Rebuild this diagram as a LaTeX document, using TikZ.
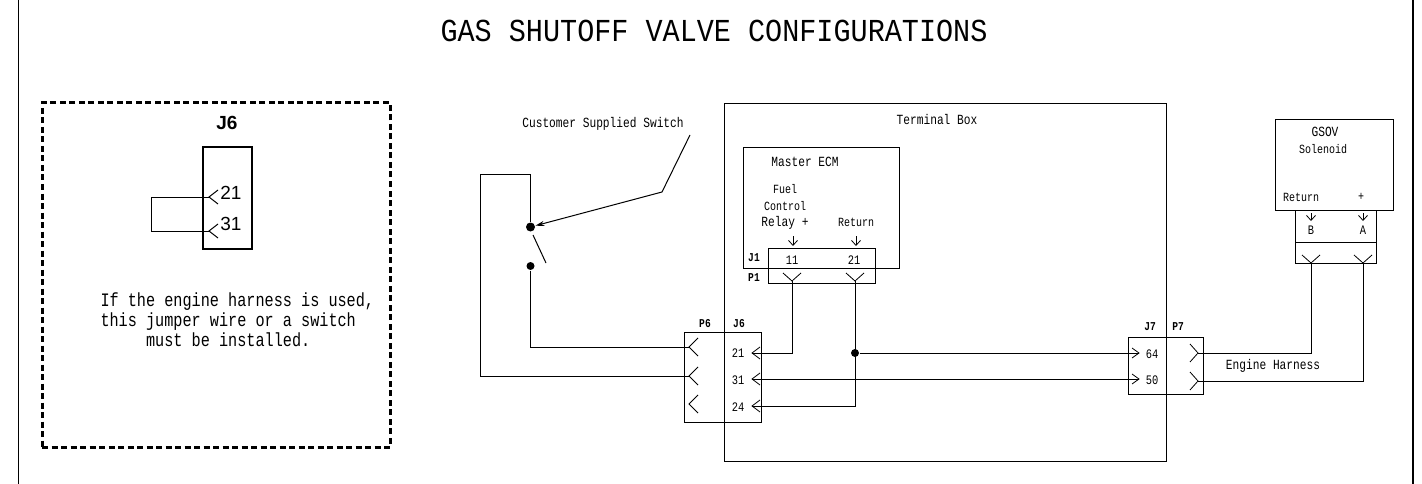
\documentclass[tikz,border=0pt]{standalone}
\usepackage{fontspec}
\usetikzlibrary{arrows.meta}
\newfontfamily\monofont[FakeStretch=0.8]{Liberation Mono}
\newfontfamily\headfont[FakeStretch=0.89]{Liberation Mono}
\newfontfamily\pinfont{Liberation Sans}
\tikzstyle{box} = [rectangle, draw, line width=1pt, inner sep=0pt, outer sep=0pt]
\tikzstyle{joint} = [circle, minimum width=8pt, fill, inner sep=0pt]
\tikzstyle{lbl} = [inner sep=0pt, font=\monofont\fontsize{14}{14}\selectfont]
\tikzstyle{lblsm} = [inner sep=0pt, font=\monofont\fontsize{12.5}{12.5}\selectfont]
\tikzstyle{num} = [inner sep=0pt, font=\monofont\fontsize{13}{13}\selectfont]
\tikzstyle{pin} = [inner sep=0pt, font=\monofont\bfseries\fontsize{12}{12}\selectfont]
\tikzstyle{wire} = [line width=1pt]
\tikzstyle{barb} = [line width=.8pt, -{Straight Barb[length=5pt,width=9pt]}]

\begin{document}
\begin{tikzpicture}[x=1pt, y=-1pt, line width=1pt]
    \useasboundingbox (0,0) rectangle (1422,484);
    \coordinate (ltop) at (18.5,0);
    \coordinate (lbot) at (18.5,484);
    \coordinate (rtop) at (1413,0);
    \coordinate (rbot) at (1413,484);
    \draw [line width=1.4pt] (ltop) -- (lbot);
    \draw [line width=1.4pt] (rtop) -- (rbot);
    \node (title) [inner sep=0pt, font=\headfont\fontsize{32}{32}\selectfont] at (714,31) {GAS SHUTOFF VALVE CONFIGURATIONS};

    % jumper panel
    \node (panel) [box, line width=3pt, dash pattern=on 6pt off 3.5pt, minimum width=348pt, minimum height=344pt] at (216,275) {};
    \node (jhead) [inner sep=0pt, font=\pinfont\bfseries\fontsize{19}{19}\selectfont] at (227,123) {J6};
    \node (jbox) [box, line width=1.5pt, minimum width=49pt, minimum height=102pt] at (227.5,198) {};
    \node (jt21) [inner sep=0pt, font=\pinfont\fontsize{19}{19}\selectfont] at (231,193) {21};
    \node (jt31) [inner sep=0pt, font=\pinfont\fontsize{19}{19}\selectfont] at (231,224) {31};
    \coordinate (ja) at (209,197);
    \coordinate (jb) at (209,231);
    \coordinate (jl) at (151,197);
    \draw (ja) -- (jl) |- (jb);
    \foreach \c in {ja,jb} \draw ([shift={(9,-7)}]\c) -- (\c) -- ([shift={(9,7)}]\c);
    \node (note) [inner sep=0pt, align=left, anchor=north west, font=\monofont\fontsize{19}{20}\selectfont] at (100,292) {If the engine harness is used,\\this jumper wire or a switch\\~~~~~must be installed.};

    % boxes
    \node (tbox) [box, minimum width=442pt, minimum height=357pt] at (945,282.5) {};
    \node (ecm) [box, minimum width=156pt, minimum height=120pt] at (821,208) {};
    \node (j1) [box, minimum width=107pt, minimum height=20pt] at (821.5,258) {};
    \node (p1) [box, minimum width=107pt, minimum height=15pt] at (821.5,275.5) {};
    \node (p6) [box, minimum width=40pt, minimum height=90pt] at (704,377) {};
    \node (j6) [box, minimum width=37pt, minimum height=90pt] at (742.5,377) {};
    \node (j7) [box, minimum width=38pt, minimum height=57pt] at (1147,365.5) {};
    \node (p7) [box, minimum width=37pt, minimum height=57pt] at (1184.5,365.5) {};
    \node (gsov) [box, minimum width=118pt, minimum height=90pt] at (1334,165) {};
    \node (gtop) [box, minimum width=81pt, minimum height=32pt] at (1335.5,226) {};
    \node (gbot) [box, minimum width=81pt, minimum height=21pt] at (1335.5,252.5) {};

    % labels
    \node (tlbl) [lbl] at (937,119) {Terminal Box};
    \node (slbl) [lbl] at (603,124) {Customer Supplied Switch};
    \node (mlbl) [lbl] at (805,162) {Master ECM};
    \node (fuel) [lblsm] at (785,189) {Fuel};
    \node (ctrl) [lblsm] at (785,206) {Control};
    \node (relay) [lbl] at (785,223) {Relay +};
    \node (rlbl) [lblsm] at (856,222) {Return};
    \node (glbl) [lbl] at (1325,132) {GSOV};
    \node (solen) [lblsm] at (1323,149) {Solenoid};
    \node (grtn) [lblsm] at (1301,197) {Return};
    \node (gpls) [lblsm] at (1361,197) {+};
    \node (hlbl) [lbl] at (1273,366) {Engine Harness};
    \node (lj1) [pin] at (754,258) {J1};
    \node (lp1) [pin] at (754,278) {P1};
    \node (lp6) [pin] at (705,324) {P6};
    \node (lj6) [pin] at (739,324) {J6};
    \node (lj7) [pin] at (1150,327) {J7};
    \node (lp7) [pin] at (1178,327) {P7};
    \node (n11) [num] at (792,260) {11};
    \node (n21) [num] at (854,260) {21};
    \node (m21) [num] at (738,353) {21};
    \node (m31) [num] at (738,380) {31};
    \node (m24) [num] at (738,407) {24};
    \node (m64) [num] at (1152,354) {64};
    \node (m50) [num] at (1152,380) {50};
    \node (nb) [num] at (1311,230) {B};
    \node (na) [num] at (1363,230) {A};

    % contact points
    \coordinate (p6a) at (689,347);
    \coordinate (p6b) at (689,376);
    \coordinate (p6c) at (689,404);
    \coordinate (j6a) at (752,353);
    \coordinate (j6b) at (752,379);
    \coordinate (j6c) at (752,406);
    \coordinate (p1a) at (792,281);
    \coordinate (p1b) at (855,281);
    \coordinate (j7a) at (1139,353);
    \coordinate (j7b) at (1139,379);
    \coordinate (p7a) at (1198,353);
    \coordinate (p7b) at (1198,381);
    \coordinate (ga) at (1311,263);
    \coordinate (gb) at (1363,263);
    \foreach \c in {p6a,p6b,p6c} \draw [line width=.8pt] ([shift={(9,-9)}]\c) -- (\c) -- ([shift={(9,9)}]\c);
    \foreach \c in {j6a,j6b,j6c} \draw [line width=.8pt] ([shift={(8,-6)}]\c) -- (\c) -- ([shift={(8,6)}]\c);
    \foreach \c in {j7a,j7b} \draw [line width=.8pt] ([shift={(-7,-5)}]\c) -- (\c) -- ([shift={(-7,5)}]\c);
    \foreach \c in {p7a,p7b} \draw [line width=.8pt] ([shift={(-8,-9)}]\c) -- (\c) -- ([shift={(-8,9)}]\c);
    \foreach \c in {p1a,p1b,ga,gb} \draw [line width=.8pt] ([shift={(-9,-8)}]\c) -- (\c) -- ([shift={(9,-8)}]\c);

    % small arrows into the connectors
    \foreach \n/\x/\a/\b in {f/793/236/246,r/856/236/246,b/1311/213/221,a/1363/213/221} {
        \coordinate (\n s) at (\x,\a);
        \coordinate (\n e) at (\x,\b);
        \draw [barb] (\n s) -- (\n e);
    }

    % switch
    \node (swa) [joint, minimum width=9pt] at (530.5,227) {};
    \node (swb) [joint] at (530.5,266) {};
    \coordinate (blt) at (533,235);
    \coordinate (blb) at (546,263);
    \draw (blt) -- (blb);
    \coordinate (lda) at (690,135);
    \coordinate (ldb) at (662,192);
    \draw [-{Stealth[length=9pt,width=5pt]}] (lda) -- (ldb) -- (swa);
    \coordinate (lpt) at (480,175);
    \draw [wire] (swa) |- (lpt) |- (p6b);
    \draw [wire] (swb) |- (p6a);

    % harness
    \node (jct) [joint] at (855,353) {};
    \draw [wire] (j6a) -| (p1a);
    \draw [wire] (j6c) -| (p1b);
    \draw [wire] (jct) -- (j7a);
    \draw [wire] (j6b) -- (j7b);
    \draw [wire] (p7a) -| (ga);
    \draw [wire] (p7b) -| (gb);
\end{tikzpicture}
\end{document}
